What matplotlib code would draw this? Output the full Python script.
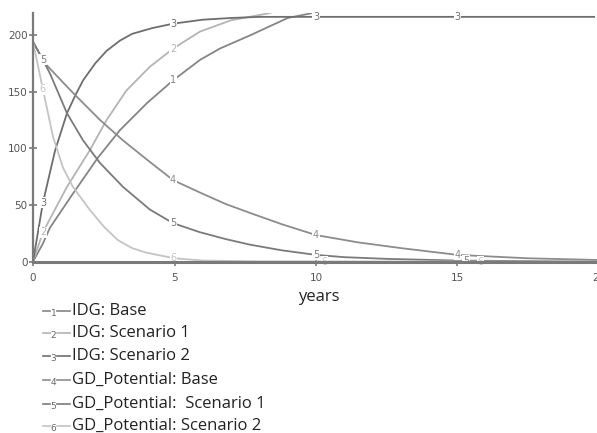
import matplotlib
matplotlib.use("Agg")
import matplotlib.pyplot as plt
from matplotlib.lines import Line2D

# ---- data ----
t1 = [0, 0.35, 0.6, 1.41, 2.3, 3.07, 4.03, 4.95, 5.9, 6.6, 7.7, 9.0, 9.8, 10.5]
idg_base = [0, 16, 30, 60, 92, 116, 140, 160, 178, 188, 200, 215, 219, 225]

t2 = [0, 0.35, 1.2, 2.0, 2.6, 3.3, 4.13, 4.95, 5.9, 7.0, 8.3, 9.0]
idg_s1 = [0, 26, 66, 98, 125, 151, 172, 188, 203, 213, 219, 224]

t3 = [0, 0.35, 0.78, 1.2, 1.5, 1.77, 2.2, 2.6, 3.07, 3.5, 4.2, 4.95, 6, 7, 8, 10, 15, 20]
idg_s2 = [0, 52, 98, 131, 147, 160, 175, 186, 195, 201, 206, 210, 213.5, 215, 216, 216, 216, 216]

t4 = [0, 0.42, 1.41, 2.37, 3.18, 4.13, 4.95, 5.9, 6.8, 7.67, 8.8, 10, 11.5, 13, 15, 17.5, 20]
gd_base = [194, 175, 149, 125, 107, 88, 72, 61, 51, 43, 33, 23.5, 17, 12, 6, 3, 1.5]

t5 = [0, 0.35, 0.6, 1.2, 1.77, 2.37, 3.18, 4.13, 4.95, 5.9, 6.8, 7.67, 8.8, 10, 11, 12.5, 15, 20]
gd_s1 = [194, 178, 166, 131, 107, 87, 66, 46, 34, 26, 20, 15, 10, 6, 4, 2.5, 1, 0]

t6 = [0, 0.35, 0.71, 1.06, 1.41, 2.0, 2.5, 3.0, 3.5, 4.0, 5.0, 6.0, 8.0, 20]
gd_s2 = [194, 152, 110, 83, 66, 46, 31, 19, 12, 8, 3, 1, 0.3, 0]

series = [
    ("IDG: Base", t1, idg_base, "#858585"),
    ("IDG: Scenario 1", t2, idg_s1, "#b4b4b4"),
    ("IDG: Scenario 2", t3, idg_s2, "#6e6e6e"),
    ("GD_Potential: Base", t4, gd_base, "#8c8c8c"),
    ("GD_Potential:  Scenario 1", t5, gd_s1, "#7a7a7a"),
    ("GD_Potential: Scenario 2", t6, gd_s2, "#c4c4c4"),
]

# line-number label positions (time, value) per series
label_pts = {
    1: [(4.95, 160)],
    2: [(0.35, 26), (4.95, 188)],
    3: [(0.35, 52), (4.95, 210), (10, 216), (15, 216), (20, 216)],
    4: [(4.95, 72), (10, 23.5), (15, 6)],
    5: [(0.35, 178), (4.95, 34), (10, 6), (15.3, 1)],
    6: [(0.35, 152), (4.95, 3), (10.3, 0), (15.8, 0)],
}

xticks = [0, 5, 10, 15, 20]
yticks = [0, 50, 100, 150, 200]

W, H = 597, 433
fig = plt.figure(figsize=(W / 100, H / 100), dpi=100)
ax = fig.add_axes([33 / W, 1 - 261.7 / H, 566 / W, (261.7 - 13) / H])

for i, (name, t, v, c) in enumerate(series, start=1):
    ax.plot(t, v, color=c, lw=1.3, solid_capstyle="butt", solid_joinstyle="round",
            clip_on=True, zorder=2)
    for (tx, vy) in label_pts[i]:
        ax.text(tx, vy, str(i), color=c, fontsize=7, ha="center", va="center",
                family="DejaVu Sans", zorder=4,
                bbox=dict(boxstyle="square,pad=0.05", fc="white", ec="none"))

ax.set_xlim(0, 20)
ax.set_ylim(0, 219.4)
ax.set_xticks(xticks)
ax.set_yticks(yticks)
ax.set_xticklabels([str(x) for x in xticks])
ax.set_yticklabels([str(y) for y in yticks])
for s in ["top", "right"]:
    ax.spines[s].set_visible(False)
ax.spines["left"].set_color("#7a7a7a")
ax.spines["left"].set_linewidth(1.6)
ax.spines["bottom"].set_color("#7a7a7a")
ax.spines["bottom"].set_linewidth(2.2)
ax.spines["left"].set_zorder(5)
ax.spines["bottom"].set_zorder(5)
ax.tick_params(axis="both", direction="inout", length=6, width=1.2,
               colors="#7a7a7a", labelsize=7.5, labelcolor="#555555", pad=2)
ax.tick_params(axis="y", pad=1)
ax.tick_params(axis="x", pad=5)
ax.patch.set_alpha(0)

fig.text(319 / W, 1 - 297 / H, "years", ha="center", va="center",
         fontsize=12, color="#222222", family="Open Sans")

# custom legend
rows = [310.7, 333, 356, 380, 404, 426]
for i, ((name, t, v, c), yy) in enumerate(zip(series, rows), start=1):
    yf = 1 - yy / H
    fig.add_artist(Line2D([43 / W, 50 / W], [yf, yf], color=c, lw=1.2))
    fig.add_artist(Line2D([57 / W, 70 / W], [yf, yf], color=c, lw=1.2))
    fig.text(53.5 / W, yf - 2.5 / H, str(i), ha="center", va="center",
             fontsize=6.5, color="#666666", family="DejaVu Sans")
    fig.text(72 / W, yf, name, ha="left", va="center", fontsize=12,
             color="#222222", family="Open Sans")

fig.savefig("out.png", dpi=100, facecolor="white")
